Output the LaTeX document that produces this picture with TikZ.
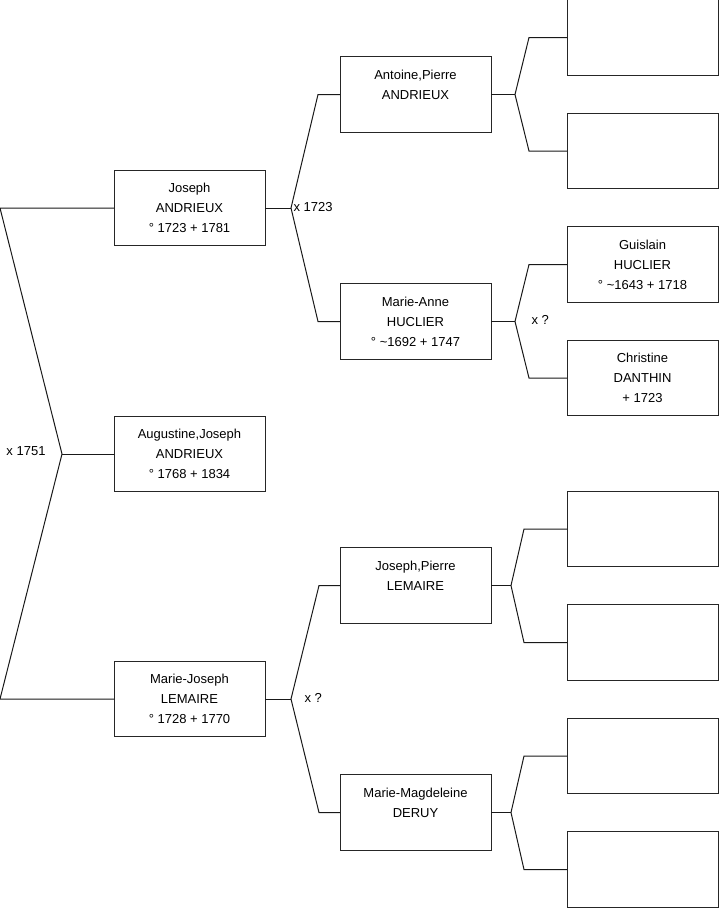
\documentclass[tikz,border=0pt]{standalone}
\usepackage{fontspec}
\setmainfont{Liberation Sans}
\usetikzlibrary{positioning}

\begin{document}
\begin{tikzpicture}[x=1pt, y=-1pt, line width=1pt,
  every node/.style={font=\fontsize{13}{20}\selectfont},
  person/.style={draw=black!85, rectangle, minimum width=151pt, minimum height=75.5pt, inner sep=0pt, outer sep=0pt, align=center},
  link/.style={draw=black!90}]
\useasboundingbox (0,0) rectangle (719,908);

% generation 1 and 2
\node[person] (joseph) at (189.5,208) {Joseph\\ANDRIEUX\\° 1723 + 1781};
\node[person] (augustine) at (189.5,454) {Augustine,Joseph\\ANDRIEUX\\° 1768 + 1834};
\node[person] (mariejoseph) at (189.5,699) {Marie-Joseph\\LEMAIRE\\° 1728 + 1770};

% generation 3
\node[person] (antoine) at (415.5,94.5) {Antoine,Pierre\\ANDRIEUX\\\mbox{}};
\node[person] (marieanne) at (415.5,321.5) {Marie-Anne\\HUCLIER\\° \textasciitilde1692 + 1747};
\node[person] (josephpierre) at (415.5,585.5) {Joseph,Pierre\\LEMAIRE\\\mbox{}};
\node[person] (mariemagd) at (415.5,812.5) {Marie-Magdeleine\\DERUY\\\mbox{}};

% generation 4
\node[person] (p1) at (642.5,37.5) {};
\node[person] (p2) at (642.5,151) {};
\node[person] (guislain) at (642.5,264.5) {Guislain\\HUCLIER\\° \textasciitilde1643 + 1718};
\node[person] (christine) at (642.5,378) {Christine\\DANTHIN\\ + 1723};
\node[person] (p5) at (642.5,529) {};
\node[person] (p6) at (642.5,642.5) {};
\node[person] (p7) at (642.5,756) {};
\node[person] (p8) at (642.5,869.5) {};

% forks
\coordinate (l1) at (0,208);
\coordinate (a1) at (62,454);
\coordinate (l2) at (0,699);
\draw[link] (joseph.west) -- (l1) -- (a1) -- (l2) -- (mariejoseph.west);
\draw[link] (a1) -- (augustine.west);
\node[anchor=east, inner sep=0pt] (m1) at (46,451) {x 1751};

\coordinate (k1) at (291,208);
\coordinate (b1) at (318,94.5);
\coordinate (b2) at (318,321.5);
\draw[link] (joseph.east) -- (k1);
\draw[link] (antoine.west) -- (b1) -- (k1) -- (b2) -- (marieanne.west);
\node[anchor=west, inner sep=0pt] (m2) at (293,207) {x 1723};

\coordinate (k2) at (515,94.5);
\coordinate (c1) at (529,37.5);
\coordinate (c2) at (529,151);
\draw[link] (antoine.east) -- (k2);
\draw[link] (p1.west) -- (c1) -- (k2) -- (c2) -- (p2.west);

\coordinate (k3) at (515,321.5);
\coordinate (d1) at (529,264.5);
\coordinate (d2) at (529,378);
\draw[link] (marieanne.east) -- (k3);
\draw[link] (guislain.west) -- (d1) -- (k3) -- (d2) -- (christine.west);
\node[anchor=west, inner sep=0pt] (m3) at (531,320) {x ?};

\coordinate (k4) at (291,699);
\coordinate (e1) at (319,585.5);
\coordinate (e2) at (319,812.5);
\draw[link] (mariejoseph.east) -- (k4);
\draw[link] (josephpierre.west) -- (e1) -- (k4) -- (e2) -- (mariemagd.west);
\node[anchor=west, inner sep=0pt] (m4) at (304,698) {x ?};

\coordinate (k5) at (511,585.5);
\coordinate (f1) at (524,529);
\coordinate (f2) at (524,642.5);
\draw[link] (josephpierre.east) -- (k5);
\draw[link] (p5.west) -- (f1) -- (k5) -- (f2) -- (p6.west);

\coordinate (k6) at (511,812.5);
\coordinate (g1) at (524,756);
\coordinate (g2) at (524,869.5);
\draw[link] (mariemagd.east) -- (k6);
\draw[link] (p7.west) -- (g1) -- (k6) -- (g2) -- (p8.west);
\end{tikzpicture}
\end{document}
